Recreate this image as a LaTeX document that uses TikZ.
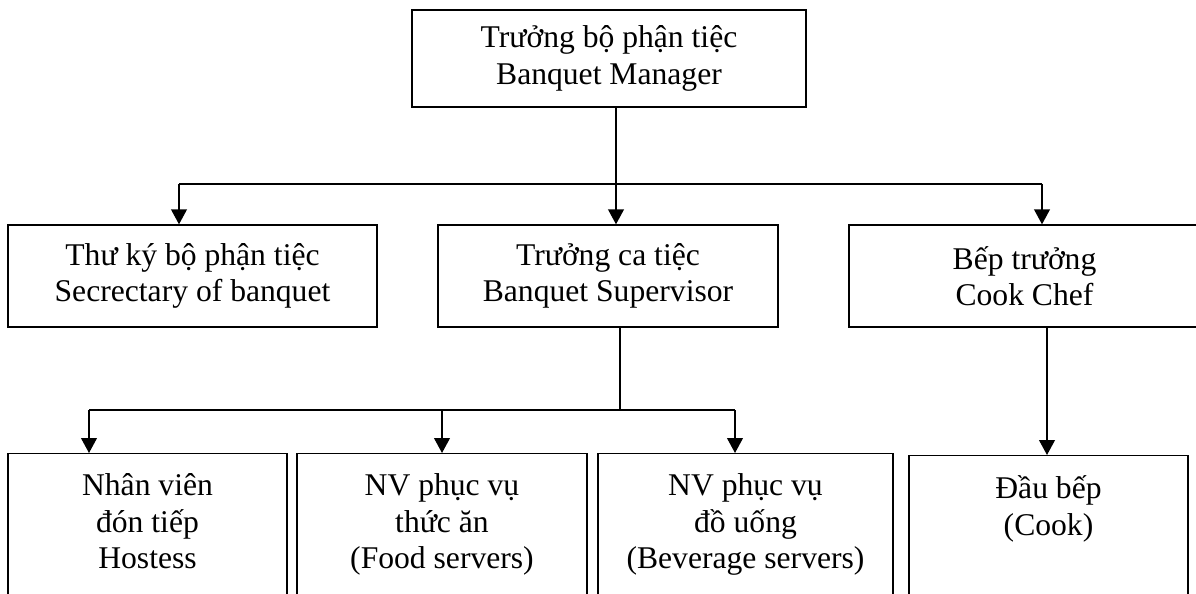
\documentclass[tikz,border=0pt]{standalone}
\usepackage{fontspec}
\setmainfont{Liberation Serif}
\usetikzlibrary{arrows.meta}

\tikzset{
  box/.style={draw, line width=0.8pt, align=center, inner sep=0pt, minimum height=2.04cm},
  lowbox/.style={draw, line width=0.8pt, anchor=north, align=center,
    inner xsep=0pt, inner ysep=11.5pt, text depth=4cm},
  link/.style={line width=0.8pt},
  arr/.style={link, -{Triangle[length=8.5pt,width=9pt]}}
}

\begin{document}
\begin{tikzpicture}[x=0.02cm, y=-0.02cm, font=\fontsize{18pt}{20.7pt}\selectfont]

        \useasboundingbox (0,0) rectangle (1196,594);
        \clip (0,0) rectangle (1196,594);

        % cấp quản lý
        \node[box, minimum width=7.88cm, minimum height=1.94cm] (mgr) at (609,58.5) {Trưởng bộ phận tiệc\\Banquet Manager};

        % cấp thứ hai
        \node[box, minimum width=7.38cm] (sec) at (192.5,276) {Thư ký bộ phận tiệc\\Secrectary of banquet};
        \node[box, minimum width=6.8cm] (sup) at (608,276) {Trưởng ca tiệc\\Banquet Supervisor};
        \node[box, minimum width=7.02cm] (chef) at (1024.5,276) {Bếp trưởng\\Cook Chef};

        % cấp nhân viên
        \node[lowbox, minimum width=5.58cm] (host) at (147.5,453) {Nhân viên\\đón tiếp\\Hostess};
        \node[lowbox, minimum width=5.8cm] (food) at (442,453) {NV phục vụ\\thức ăn\\(Food servers)};
        \node[lowbox, minimum width=5.9cm] (bev) at (745.5,453) {NV phục vụ\\đồ uống\\(Beverage servers)};
        \node[lowbox, minimum width=5.58cm] (cook) at (1048.5,455) {Đầu bếp\\(Cook)};

        % điểm rẽ nhánh
        \coordinate (busL) at (179,184);
        \coordinate (busM) at (616,184);
        \coordinate (busR) at (1042,184);
        \coordinate (subL) at (89,410);
        \coordinate (subM) at (620,410);
        \coordinate (subR) at (735,410);
        \coordinate (cookM) at (1047,455);

        % nhánh từ trưởng bộ phận
        \draw[arr] (mgr.south -| busM) -- (sup.north -| busM);
        \draw[link] (busL) -- (busR);
        \draw[arr] (busL) -- (busL |- sec.north);
        \draw[arr] (busR) -- (busR |- chef.north);

        % nhánh từ trưởng ca
        \draw[link] (sup.south -| subM) -- (subM);
        \draw[link] (subL) -- (subR);
        \draw[arr] (subL) -- (subL |- host.north);
        \draw[arr] (subL -| food.north) -- (food.north);
        \draw[arr] (subR) -- (subR |- bev.north);

        % nhánh từ bếp trưởng
        \draw[arr] (chef.south -| cookM) -- (cookM);

    \end{tikzpicture}
\end{document}
